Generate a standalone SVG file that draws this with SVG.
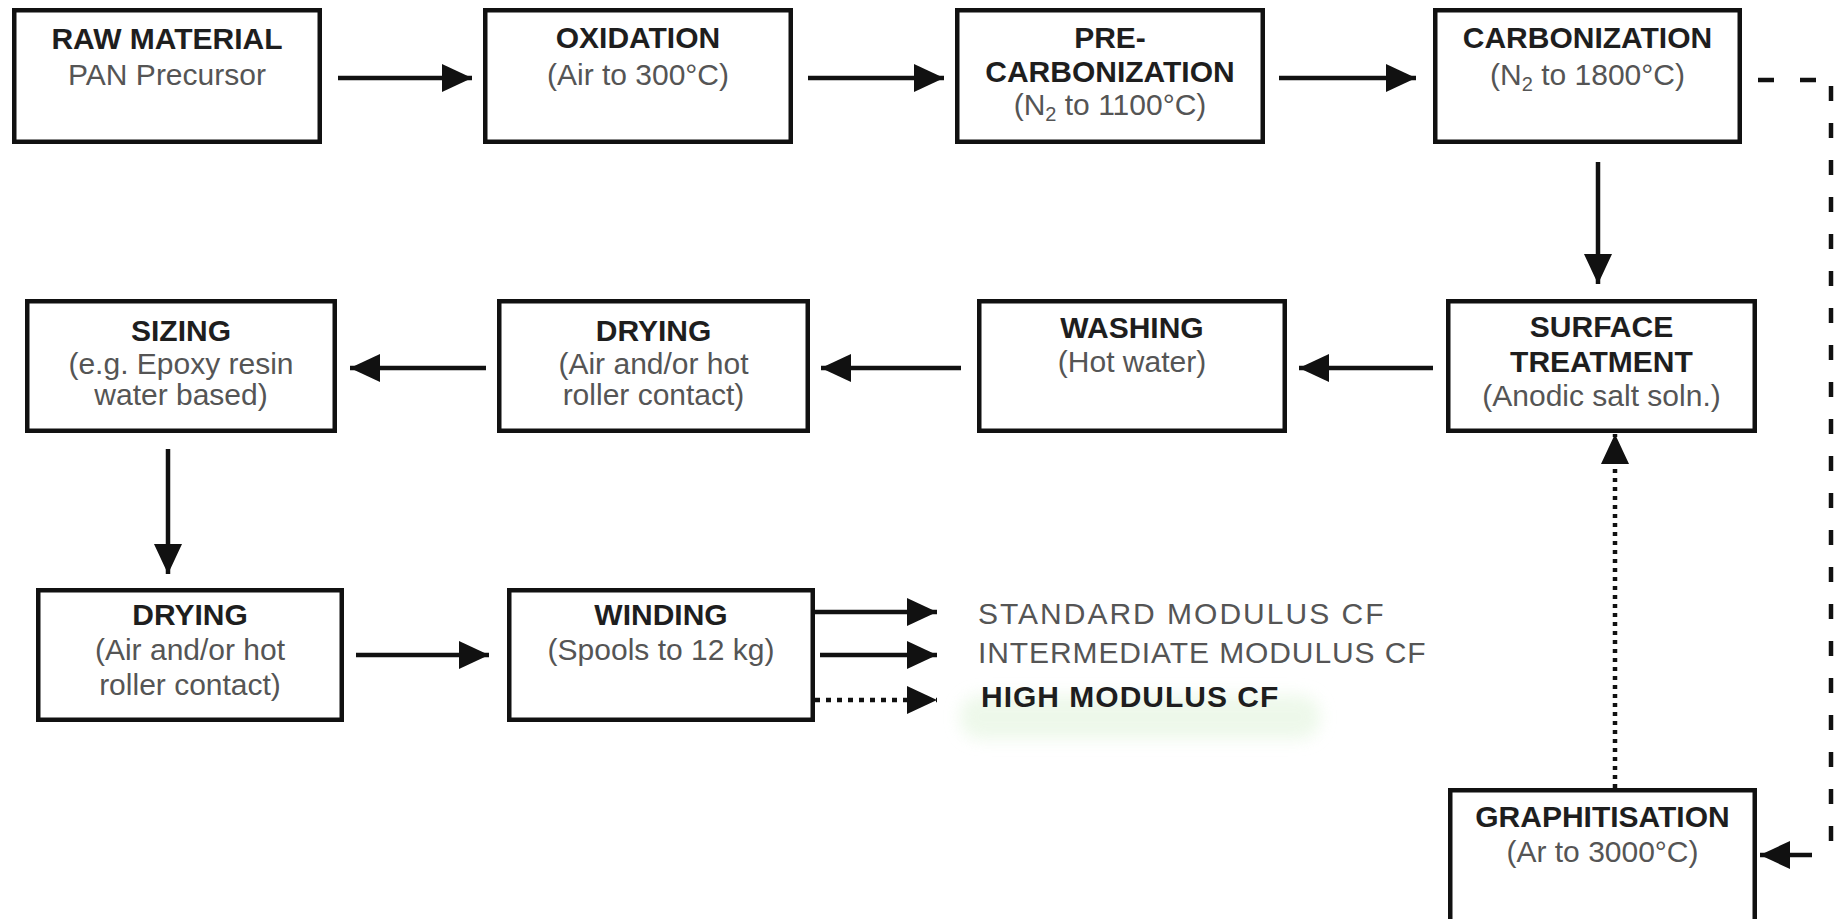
<svg xmlns="http://www.w3.org/2000/svg" width="1843" height="919" viewBox="0 0 1843 919">
<style>
.box{fill:#fff;stroke:#111;stroke-width:4.5}
.t{font-family:"Liberation Sans",Arial,sans-serif;font-size:30px;text-anchor:middle}
.b{font-weight:bold;fill:#1e1e1e}
.s{fill:#555}
.lbl{font-family:"Liberation Sans",Arial,sans-serif;font-size:30px}
.ln{fill:none;stroke:#111;stroke-width:4.5}
</style>
<defs>
<marker id="ah" markerUnits="userSpaceOnUse" markerWidth="32" markerHeight="30" refX="30" refY="14" orient="auto">
<path d="M0,0 L30,14 L0,28 z" fill="#111"/>
</marker>
<filter id="blur" x="-20%" y="-50%" width="140%" height="200%"><feGaussianBlur stdDeviation="8"/></filter>
</defs>
<rect width="1843" height="919" fill="#fff"/>
<rect x="960" y="695" width="360" height="44" rx="20" fill="#e6f6e2" opacity="0.7" filter="url(#blur)"/>

<g id="raw-material">
<rect class="box" x="14.25" y="10.25" width="305.5" height="131.5"/>
<text class="t b" x="167" y="49">RAW MATERIAL</text>
<text class="t s" x="167" y="85">PAN Precursor</text>
</g>
<g id="oxidation">
<rect class="box" x="485.25" y="10.25" width="305.5" height="131.5"/>
<text class="t b" x="638" y="48">OXIDATION</text>
<text class="t s" x="638" y="85">(Air to 300°C)</text>
</g>
<g id="pre-carbonization">
<rect class="box" x="957.25" y="10.25" width="305.5" height="131.5"/>
<text class="t b" x="1110" y="48">PRE-</text>
<text class="t b" x="1110" y="82">CARBONIZATION</text>
<text class="t s" x="1110" y="115">(N<tspan font-size="20" dy="6">2</tspan><tspan dy="-6"> to 1100°C)</tspan></text>
</g>
<g id="carbonization">
<rect class="box" x="1435.25" y="10.25" width="304.5" height="131.5"/>
<text class="t b" x="1587.5" y="48">CARBONIZATION</text>
<text class="t s" x="1587.5" y="85">(N<tspan font-size="20" dy="6">2</tspan><tspan dy="-6"> to 1800°C)</tspan></text>
</g>
<g id="sizing">
<rect class="box" x="27.25" y="301.25" width="307.5" height="129.5"/>
<text class="t b" x="181" y="341">SIZING</text>
<text class="t s" x="181" y="374">(e.g. Epoxy resin</text>
<text class="t s" x="181" y="405">water based)</text>
</g>
<g id="drying-1">
<rect class="box" x="499.25" y="301.25" width="308.5" height="129.5"/>
<text class="t b" x="653.5" y="341">DRYING</text>
<text class="t s" x="653.5" y="374">(Air and/or hot</text>
<text class="t s" x="653.5" y="405">roller contact)</text>
</g>
<g id="washing">
<rect class="box" x="979.25" y="301.25" width="305.5" height="129.5"/>
<text class="t b" x="1132" y="338">WASHING</text>
<text class="t s" x="1132" y="372">(Hot water)</text>
</g>
<g id="surface-treatment">
<rect class="box" x="1448.25" y="301.25" width="306.5" height="129.5"/>
<text class="t b" x="1601.5" y="337">SURFACE</text>
<text class="t b" x="1601.5" y="372">TREATMENT</text>
<text class="t s" x="1601.5" y="406">(Anodic salt soln.)</text>
</g>
<g id="drying-2">
<rect class="box" x="38.25" y="590.25" width="303.5" height="129.5"/>
<text class="t b" x="190" y="625">DRYING</text>
<text class="t s" x="190" y="660">(Air and/or hot</text>
<text class="t s" x="190" y="695">roller contact)</text>
</g>
<g id="winding">
<rect class="box" x="509.25" y="590.25" width="303.5" height="129.5"/>
<text class="t b" x="661" y="625">WINDING</text>
<text class="t s" x="661" y="660">(Spools to 12 kg)</text>
</g>
<g id="graphitisation">
<rect class="box" x="1450.25" y="790.25" width="304.5" height="150"/>
<text class="t b" x="1602.5" y="827">GRAPHITISATION</text>
<text class="t s" x="1602.5" y="862">(Ar to 3000°C)</text>
</g>
<g id="outputs">
<text class="lbl s" x="978" y="624" letter-spacing="2">STANDARD MODULUS CF</text>
<text class="lbl s" x="978" y="663" letter-spacing="0.9">INTERMEDIATE MODULUS CF</text>
<text class="lbl b" x="981" y="707" letter-spacing="1">HIGH MODULUS CF</text>
</g>

<g id="connectors">
<line class="ln" x1="338" y1="78" x2="472" y2="78" marker-end="url(#ah)"/>
<line class="ln" x1="808" y1="78" x2="944" y2="78" marker-end="url(#ah)"/>
<line class="ln" x1="1279" y1="78" x2="1416" y2="78" marker-end="url(#ah)"/>
<line class="ln" x1="1598" y1="162" x2="1598" y2="284" marker-end="url(#ah)"/>
<line class="ln" x1="1433" y1="368" x2="1299" y2="368" marker-end="url(#ah)"/>
<line class="ln" x1="961" y1="368" x2="821" y2="368" marker-end="url(#ah)"/>
<line class="ln" x1="486" y1="368" x2="350" y2="368" marker-end="url(#ah)"/>
<line class="ln" x1="168" y1="449" x2="168" y2="574" marker-end="url(#ah)"/>
<line class="ln" x1="356" y1="655" x2="489" y2="655" marker-end="url(#ah)"/>
<line class="ln" x1="815" y1="612" x2="937" y2="612" marker-end="url(#ah)"/>
<line class="ln" x1="820" y1="655" x2="937" y2="655" marker-end="url(#ah)"/>
<line class="ln" x1="815" y1="700" x2="937" y2="700" stroke-dasharray="5 6" marker-end="url(#ah)"/>
<line class="ln" x1="1758" y1="80" x2="1826" y2="80" stroke-dasharray="16 26"/>
<line class="ln" x1="1831" y1="86" x2="1831" y2="858" stroke-width="6" stroke-dasharray="15 22"/>
<line class="ln" x1="1812" y1="855" x2="1760" y2="855" marker-end="url(#ah)"/>
<line class="ln" x1="1615" y1="788" x2="1615" y2="434" stroke-width="4" stroke-dasharray="4 5" marker-end="url(#ah)"/>
</g>
</svg>
